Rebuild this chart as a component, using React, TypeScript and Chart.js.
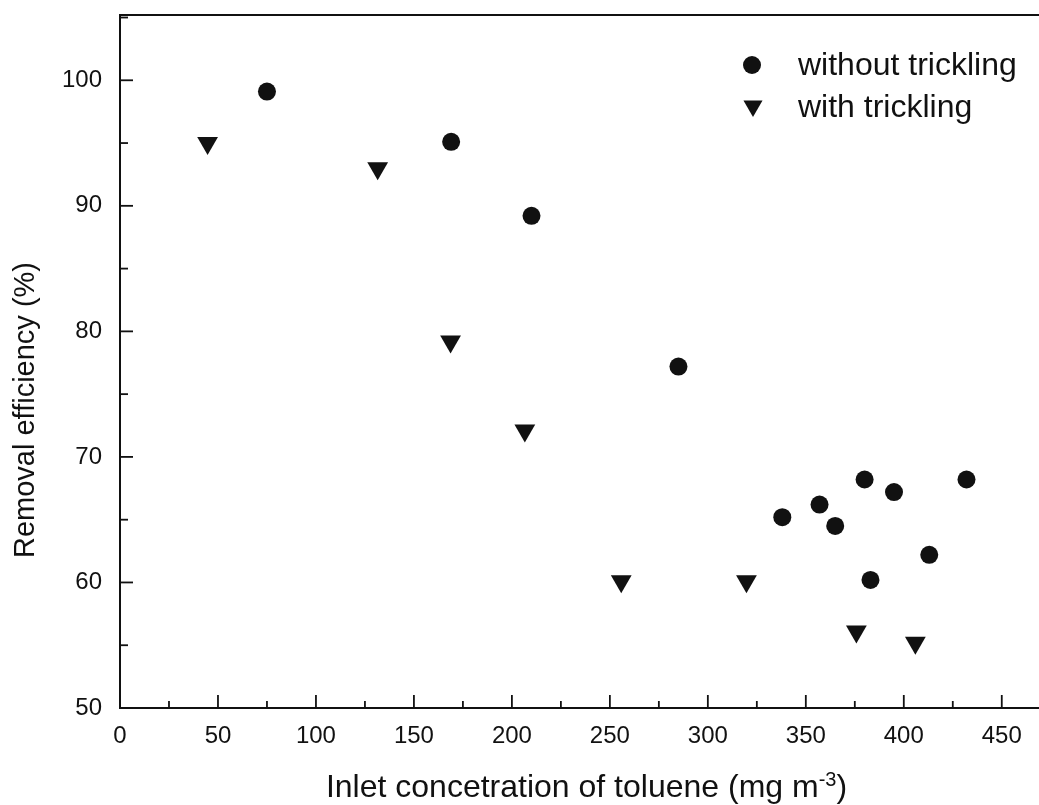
import React, { useEffect, useRef } from 'react';
import { Chart, registerables } from 'chart.js';

Chart.register(...registerables);

const FONT = "'Liberation Sans', Arial, Helvetica, sans-serif";
const INK = '#111111';

// Data
const withoutTricklingX = [75, 169, 210, 285, 338, 357, 365, 380, 395, 432, 413, 383];
const withoutTricklingY = [99.1, 95.1, 89.2, 77.2, 65.2, 66.2, 64.5, 68.2, 67.2, 68.2, 62.2, 60.2];
const withTricklingX = [44.7, 131.5, 168.7, 206.6, 255.8, 319.7, 375.8, 405.9];
const withTricklingY = [95.0, 93.0, 79.2, 72.1, 60.1, 60.1, 56.1, 55.2];

const seriesLabels = ['without trickling', 'with trickling'];
const xTitleMain = 'Inlet concetration of toluene (mg m';
const xTitleSup = '-3';
const xTitleEnd = ')';
const yTitle = 'Removal efficiency (%)';

const xTicks = [0, 50, 100, 150, 200, 250, 300, 350, 400, 450];
const xMinorTicks = [25, 75, 125, 175, 225, 275, 325, 375, 425];
const yTicks = [50, 60, 70, 80, 90, 100];
const yMinorTicks = [55, 65, 75, 85, 95, 105];

const X_MIN = 0;
const X_MAX = 469;
const Y_MIN = 50;
const Y_MAX = 105.2;

const toPoints = (xs: number[], ys: number[]) => xs.map((x, i) => ({ x, y: ys[i] }));

const zeroPadding = (s: any) => {
  s.paddingTop = 0;
  s.paddingBottom = 0;
  s.paddingLeft = 0;
  s.paddingRight = 0;
};

const decorPlugin = {
  id: 'decor',
  afterDraw(chart: any) {
    const { ctx, chartArea, scales } = chart;
    const xs = scales.x;
    const ys = scales.y;
    ctx.save();
    ctx.strokeStyle = INK;
    ctx.fillStyle = INK;

    // top frame line
    ctx.lineWidth = 2;
    ctx.beginPath();
    ctx.moveTo(chartArea.left, chartArea.top);
    ctx.lineTo(chartArea.right, chartArea.top);
    ctx.stroke();

    // inward ticks
    ctx.lineWidth = 1.8;
    const bottom = chartArea.bottom;
    const left = chartArea.left;
    const drawX = (v: number, len: number) => {
      const px = xs.getPixelForValue(v);
      ctx.beginPath();
      ctx.moveTo(px, bottom);
      ctx.lineTo(px, bottom - len);
      ctx.stroke();
    };
    const drawY = (v: number, len: number) => {
      const py = ys.getPixelForValue(v);
      ctx.beginPath();
      ctx.moveTo(left, py);
      ctx.lineTo(left + len, py);
      ctx.stroke();
    };
    xTicks.forEach((v) => drawX(v, 13));
    xMinorTicks.forEach((v) => drawX(v, 7));
    yTicks.forEach((v) => drawY(v, 13));
    yMinorTicks.forEach((v) => drawY(v, 8));

    // legend
    const ds = chart.data.datasets;
    const lx = chartArea.left + 632;
    const ly1 = chartArea.top + 50;
    const ly2 = chartArea.top + 92;
    ctx.beginPath();
    ctx.arc(lx, ly1, 9, 0, Math.PI * 2);
    ctx.fill();
    const r = 11;
    const ty = ly2 - 1;
    ctx.beginPath();
    ctx.moveTo(lx + 1, ty + r);
    ctx.lineTo(lx + 1 - r * Math.sin(Math.PI / 3), ty - r / 2);
    ctx.lineTo(lx + 1 + r * Math.sin(Math.PI / 3), ty - r / 2);
    ctx.closePath();
    ctx.fill();
    ctx.font = `32px ${FONT}`;
    ctx.textAlign = 'left';
    ctx.textBaseline = 'alphabetic';
    ctx.fillText(ds[0].label, lx + 46, ly1 + 10);
    ctx.fillText(ds[1].label, lx + 46, ly2 + 10);

    // x title with superscript
    const mainFont = `32px ${FONT}`;
    const supFont = `20px ${FONT}`;
    ctx.font = mainFont;
    const wMain = ctx.measureText(xTitleMain).width;
    const wEnd = ctx.measureText(xTitleEnd).width;
    ctx.font = supFont;
    const wSup = ctx.measureText(xTitleSup).width;
    const total = wMain + wSup + wEnd;
    const cx = (chartArea.left + chartArea.right) / 2 + 7;
    const baseY = chartArea.bottom + 89;
    let x0 = cx - total / 2;
    ctx.font = mainFont;
    ctx.fillText(xTitleMain, x0, baseY);
    x0 += wMain;
    ctx.font = supFont;
    ctx.fillText(xTitleSup, x0, baseY - 11);
    x0 += wSup;
    ctx.font = mainFont;
    ctx.fillText(xTitleEnd, x0, baseY);

    // y title
    ctx.font = `29px ${FONT}`;
    ctx.translate(26, chartArea.top + 395);
    ctx.rotate(-Math.PI / 2);
    ctx.textAlign = 'center';
    ctx.textBaseline = 'middle';
    ctx.fillText(yTitle, 0, 0);
    ctx.restore();
  },
};

export default function App() {
  const ref = useRef<HTMLCanvasElement>(null);

  useEffect(() => {
    document.body.style.margin = '0';
    const canvas = ref.current;
    if (!canvas) return;
    const chart = new Chart(canvas, {
      type: 'scatter',
      data: {
        datasets: [
          {
            label: seriesLabels[0],
            data: toPoints(withoutTricklingX, withoutTricklingY),
            pointStyle: 'circle',
            pointRadius: 9,
            pointHoverRadius: 9,
            backgroundColor: INK,
            borderWidth: 0,
          },
          {
            label: seriesLabels[1],
            data: toPoints(withTricklingX, withTricklingY),
            pointStyle: 'triangle',
            pointRotation: 180,
            pointRadius: 12,
            pointHoverRadius: 12,
            backgroundColor: INK,
            borderWidth: 0,
          },
        ],
      },
      options: {
        responsive: false,
        animation: false,
        layout: { autoPadding: false, padding: { top: 15, right: 0, left: 0, bottom: 0 } },
        plugins: {
          legend: { display: false },
          tooltip: { enabled: false },
        },
        scales: {
          x: {
            type: 'linear',
            min: X_MIN,
            max: X_MAX,
            afterBuildTicks: (s: any) => {
              s.ticks = xTicks.map((v) => ({ value: v }));
            },
            afterFit: (s: any) => {
              s.height = 97;
              zeroPadding(s);
            },
            grid: { display: true, drawOnChartArea: false, drawTicks: false },
            border: { display: true, color: INK, width: 2 },
            ticks: {
              padding: 14,
              color: INK,
              font: { family: FONT, size: 24 },
              maxRotation: 0,
              autoSkip: false,
            },
          },
          y: {
            type: 'linear',
            min: Y_MIN,
            max: Y_MAX,
            afterBuildTicks: (s: any) => {
              s.ticks = yTicks.map((v) => ({ value: v }));
            },
            afterFit: (s: any) => {
              s.width = 120;
              zeroPadding(s);
            },
            grid: { display: true, drawOnChartArea: false, drawTicks: false },
            border: { display: true, color: INK, width: 2 },
            ticks: {
              padding: 18,
              color: INK,
              font: { family: FONT, size: 24 },
              autoSkip: false,
            },
          },
        },
      },
      plugins: [decorPlugin],
    } as any);
    return () => chart.destroy();
  }, []);

  return (
    <div style={{ width: 1039, height: 805 }}>
      <canvas ref={ref} width={1039} height={805} style={{ display: 'block' }} />
    </div>
  );
}
